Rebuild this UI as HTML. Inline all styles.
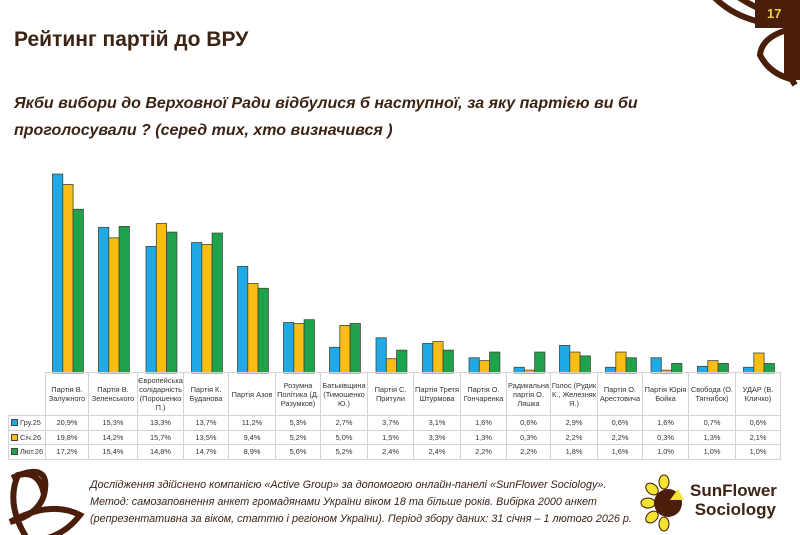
<!DOCTYPE html>
<html><head><meta charset="utf-8">
<style>
body{margin:0;width:800px;height:535px;background:#fff;overflow:hidden;position:relative;font-family:"Liberation Sans","DejaVu Sans",sans-serif}
.t{position:absolute;left:14px;top:28px;font-size:21px;font-weight:bold;color:#3c2415;white-space:nowrap}
.s{position:absolute;left:14px;top:90px;font-size:16px;font-weight:bold;font-style:italic;color:#3c2415;line-height:27px;white-space:nowrap}
table{position:absolute;left:8px;top:372px;border-collapse:collapse;font-size:7.4px;color:#333}
td{border:1px solid #d4d4d4;text-align:center;padding:0;line-height:9px}
tr.h td{height:42px}
tr.d td{height:13.5px}
.lg{text-align:left;padding-left:2px;white-space:nowrap}
.sq{display:inline-block;width:5px;height:5px;border:1px solid #444;margin-right:2px;vertical-align:-1px}
.foot{position:absolute;left:90px;top:477px;font-size:10.8px;font-style:italic;color:#3c2415;line-height:17px;white-space:nowrap}
.logo{position:absolute;left:690px;top:481px;font-size:17px;font-weight:bold;color:#3c2415;line-height:19px}
</style></head><body>
<svg width="800" height="535" style="position:absolute;left:0;top:0">
<g fill="none" stroke="#4a1e0a" stroke-width="6">
<path d="M712 -5 Q740 25 790 25"/>
<path d="M735 -5 Q765 15 795 20"/>
<path d="M795 28 Q762 35 760 55 Q770 75 795 80"/>
<path d="M795 40 Q780 60 795 85"/>
<path d="M28 540 Q5 505 18 475 Q40 470 44 495"/>
<path d="M12 478 Q52 460 44 495 Q38 515 10 522"/>
<path d="M10 522 Q50 500 80 515 Q65 535 40 540"/>
</g>
<rect x="755" y="0" width="45" height="28" fill="#4a1e0a"/>
<rect x="784" y="0" width="16" height="80" fill="#4a1e0a"/>
<text x="767" y="18" fill="#e8d640" font-size="13" font-weight="bold" font-family="Liberation Sans">17</text>
<g id="bars"></g>
<g transform="translate(668,503)">
<g fill="#f2e430" stroke="#4a1e0a" stroke-width="1">
<ellipse cx="-20" cy="0" rx="7" ry="5"/><ellipse cx="-16" cy="-14" rx="7" ry="5" transform="rotate(40 -16 -14)"/>
<ellipse cx="-16" cy="14" rx="7" ry="5" transform="rotate(-40 -16 14)"/><ellipse cx="-4" cy="-21" rx="5" ry="7"/><ellipse cx="-4" cy="21" rx="5" ry="7"/>
</g>
<circle r="14" fill="#4a1e0a"/>
<path d="M2 -3 L10 -14 L16 -3 Z" fill="#f2e430"/>
</g>
</svg>
<div class="t">Рейтинг партій до ВРУ</div>
<div class="s">Якби вибори до Верховної Ради відбулися б наступної, за яку партією ви би<br>проголосували ? (серед тих, хто визначився )</div>
<table>
<colgroup><col style="width:37px"><col style="width:43px"><col style="width:49px"><col style="width:46px"><col style="width:45px"><col style="width:47px"><col style="width:45px"><col style="width:47px"><col style="width:46px"><col style="width:47px"><col style="width:46px"><col style="width:44px"><col style="width:47px"><col style="width:45px"><col style="width:46px"><col style="width:47px"><col style="width:45px"></colgroup>
<tr class="h"><td style="border:none;border-right:1px solid #d4d4d4"></td><td>Партія В. Залужного</td><td>Партія В. Зеленського</td><td>Європейська солідарність (Порошенко П.)</td><td>Партія К. Буданова</td><td>Партія Азов</td><td>Розумна Політика (Д. Разумков)</td><td>Батьківщина (Тимошенко Ю.)</td><td>Партія С. Притули</td><td>Партія Третя Штурмова</td><td>Партія О. Гончаренка</td><td>Радикальна партія О. Ляшка</td><td>Голос (Рудик К., Железняк Я.)</td><td>Партія О. Арестовича</td><td>Партія Юрія Бойка</td><td>Свобода (О. Тягнибок)</td><td>УДАР (В. Кличко)</td></tr>
<tr class="d"><td class="lg"><span class="sq" style="background:#1fa9e6"></span>Гру.25</td><td>20,9%</td><td>15,3%</td><td>13,3%</td><td>13,7%</td><td>11,2%</td><td>5,3%</td><td>2,7%</td><td>3,7%</td><td>3,1%</td><td>1,6%</td><td>0,6%</td><td>2,9%</td><td>0,6%</td><td>1,6%</td><td>0,7%</td><td>0,6%</td></tr>
<tr class="d"><td class="lg"><span class="sq" style="background:#fbbd14"></span>Січ.26</td><td>19,8%</td><td>14,2%</td><td>15,7%</td><td>13,5%</td><td>9,4%</td><td>5,2%</td><td>5,0%</td><td>1,5%</td><td>3,3%</td><td>1,3%</td><td>0,3%</td><td>2,2%</td><td>2,2%</td><td>0,3%</td><td>1,3%</td><td>2,1%</td></tr>
<tr class="d"><td class="lg"><span class="sq" style="background:#1ea24c"></span>Лют.26</td><td>17,2%</td><td>15,4%</td><td>14,8%</td><td>14,7%</td><td>8,9%</td><td>5,6%</td><td>5,2%</td><td>2,4%</td><td>2,4%</td><td>2,2%</td><td>2,2%</td><td>1,8%</td><td>1,6%</td><td>1,0%</td><td>1,0%</td><td>1,0%</td></tr>
</table>
<div class="foot">Дослідження здійснено компанією «Active Group» за допомогою онлайн-панелі «SunFlower Sociology».<br>Метод: самозаповнення анкет громадянами України віком 18 та більше років. Вибірка 2000 анкет<br>(репрезентативна за віком, статтю і регіоном України). Період збору даних: 31 січня – 1 лютого 2026 р.</div>
<div class="logo">SunFlower<br>&nbsp;Sociology</div>
<script>
var b=[45,88,137,183,228,275,320,367,413,460,506,550,597,642,688,735,780];
var d=[[20.9,19.8,17.2],[15.3,14.2,15.4],[13.3,15.7,14.8],[13.7,13.5,14.7],[11.2,9.4,8.9],[5.3,5.2,5.6],[2.7,5.0,5.2],[3.7,1.5,2.4],[3.1,3.3,2.4],[1.6,1.3,2.2],[0.6,0.3,2.2],[2.9,2.2,1.8],[0.6,2.2,1.6],[1.6,0.3,1.0],[0.7,1.3,1.0],[0.6,2.1,1.0]];
var c=["#1fa9e6","#fbbd14","#1ea24c"],s="";
for(var i=0;i<16;i++){var cx=(b[i]+b[i+1])/2+1.5;for(var k=0;k<3;k++){var h=d[i][k]*9.52;s+='<rect x="'+(cx-15.5+k*10.3)+'" y="'+(373-h)+'" width="10.3" height="'+h+'" fill="'+c[k]+'" stroke="#3a4a3a" stroke-width="0.8"/>';}}
document.getElementById("bars").innerHTML=s;
</script>
</body></html>
